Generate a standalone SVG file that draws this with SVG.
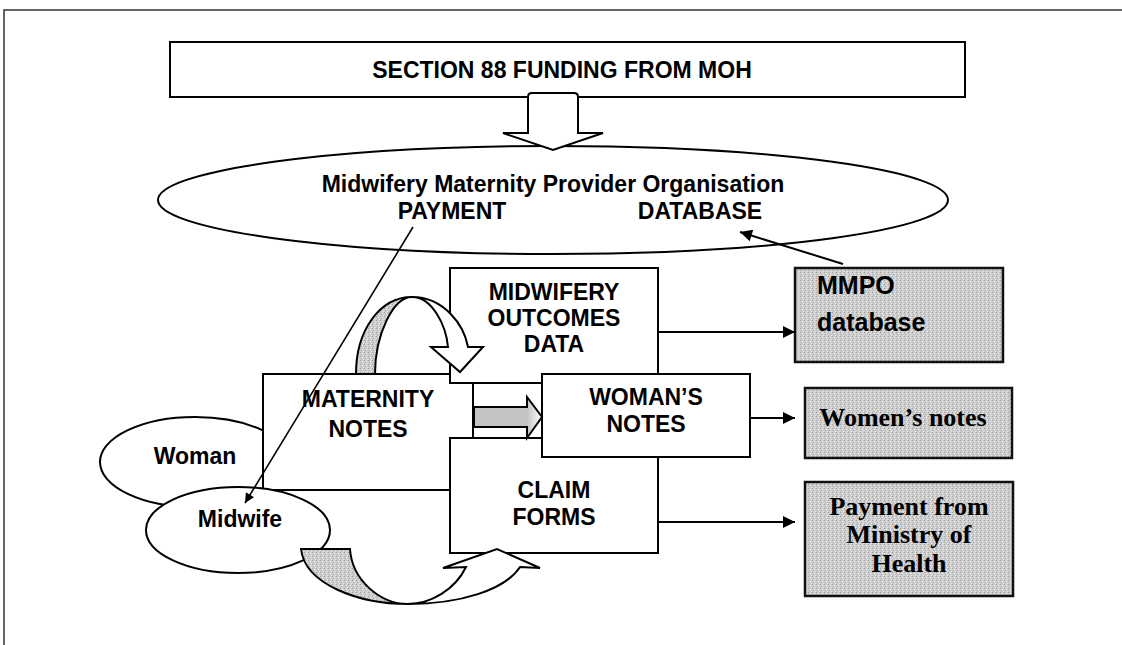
<svg xmlns="http://www.w3.org/2000/svg" width="1122" height="645" viewBox="0 0 1122 645">
  <style>
    .box { fill: #ffffff; stroke: #000; stroke-width: 2; }
    .shaded { fill: url(#stipple); stroke: #111; stroke-width: 2.5; }
    .outline { fill: #ffffff; stroke: #000; stroke-width: 2; }
    .label { font-family: "Liberation Sans", Arial, sans-serif; font-weight: bold; font-size: 23px; fill: #000; text-anchor: middle; }
    .label.left { text-anchor: start; font-size: 25px; }
    .serif { font-family: "Liberation Serif", "Times New Roman", serif; font-weight: bold; font-size: 26px; fill: #000; text-anchor: middle; }
    .conn { stroke: #000; stroke-width: 2; fill: none; marker-end: url(#head); }
    .thin { stroke: #000; stroke-width: 1.6; fill: none; marker-end: url(#head); }
  </style>
  <defs>
    <pattern id="stipple" width="4" height="4" patternUnits="userSpaceOnUse">
      <rect width="4" height="4" fill="#cdcdcd"/>
      <rect x="0" y="0" width="1" height="1" fill="#9e9e9e"/>
      <rect x="2" y="1" width="1" height="1" fill="#efefef"/>
      <rect x="1" y="2" width="1" height="1" fill="#b0b0b0"/>
      <rect x="3" y="3" width="1" height="1" fill="#e6e6e6"/>
    </pattern>
    <linearGradient id="shaftFade" x1="474" y1="0" x2="542" y2="0" gradientUnits="userSpaceOnUse">
      <stop offset="0" stop-color="#c4c4c4"/>
      <stop offset="0.78" stop-color="#c4c4c4"/>
      <stop offset="1" stop-color="#ffffff"/>
    </linearGradient>
    <marker id="head" viewBox="0 0 10 10" refX="10" refY="5" markerWidth="7" markerHeight="6" orient="auto" markerUnits="strokeWidth">
      <path d="M0,0 L10,5 L0,10 Z" fill="#000"/>
    </marker>
  </defs>

  <!-- page frame -->
  <path d="M4,645 L4,10 L1122,10" fill="none" stroke="#333" stroke-width="1.5"/>

  <!-- funding source -->
  <g id="funding">
    <rect class="box" x="170" y="42" width="795" height="55"/>
    <text class="label" x="562" y="78" font-size="25">SECTION 88 FUNDING FROM MOH</text>
  </g>

  <!-- provider organisation -->
  <g id="mmpo">
    <ellipse class="box" cx="553" cy="200" rx="395" ry="54"/>
    <text class="label" x="553" y="192" font-size="26">Midwifery Maternity Provider Organisation</text>
    <text class="label" x="452" y="219">PAYMENT</text>
    <text class="label" x="700" y="219">DATABASE</text>
  </g>

  <!-- funding block arrow -->
  <g id="funding-arrow">
    <path class="outline" d="M528,133 L528,97 Q528,93 532,93 L574,93 Q578,93 578,97 L578,133 L603,133 L553,150 L503,133 Z"/>
  </g>

  <g id="woman">
    <ellipse class="box" cx="195" cy="462" rx="95" ry="45"/>
    <text class="label" x="195" y="464">Woman</text>
  </g>

  <g id="maternity-notes">
    <rect class="box" x="263" y="374" width="210" height="116"/>
    <text class="label" x="368" y="407" font-size="24">MATERNITY</text>
    <text class="label" x="368" y="437" font-size="24">NOTES</text>
  </g>

  <g id="outcomes-data">
    <rect class="box" x="450" y="268" width="208" height="115"/>
    <text class="label" x="554" y="300" font-size="22">MIDWIFERY</text>
    <text class="label" x="554" y="326" font-size="22">OUTCOMES</text>
    <text class="label" x="554" y="352" font-size="22">DATA</text>
  </g>

  <g id="claim-forms">
    <rect class="box" x="450" y="438" width="208" height="115"/>
    <text class="label" x="554" y="498" font-size="22">CLAIM</text>
    <text class="label" x="554" y="525" font-size="22">FORMS</text>
  </g>

  <g id="womans-notes">
    <rect class="box" x="542" y="374" width="208" height="83"/>
    <text class="label" x="646" y="405" font-size="22">WOMAN’S</text>
    <text class="label" x="646" y="432" font-size="22">NOTES</text>
  </g>

  <g id="midwife">
    <ellipse class="box" cx="238" cy="530" rx="92" ry="43"/>
    <text class="label" x="240" y="527">Midwife</text>
  </g>

  <!-- outputs -->
  <g id="mmpo-database">
    <rect class="shaded" x="795" y="268" width="208" height="94"/>
    <text class="label left" x="817" y="294">MMPO</text>
    <text class="label left" x="817" y="331">database</text>
  </g>

  <g id="womens-notes">
    <rect class="shaded" x="805" y="388" width="207" height="70"/>
    <text class="serif" x="903" y="426" font-size="28">Women’s notes</text>
  </g>

  <g id="ministry-payment">
    <rect class="shaded" x="805" y="482" width="208" height="114"/>
    <text class="serif" x="909" y="515">Payment from</text>
    <text class="serif" x="909" y="543">Ministry of</text>
    <text class="serif" x="909" y="572">Health</text>
  </g>

  <!-- process arrows -->
  <g id="recording-arrow">
    <path d="M356,374 C356,330 380,297 412,297 C393,297 375,335 375,374 Z" fill="url(#stipple)" stroke="#000" stroke-width="2"/>
    <path class="outline" d="M412,297 C444,297 464,325 468,347 L483,347 L460,372 L431,347 L448,347 C446,325 432,297 412,297 Z"/>
  </g>

  <g id="notes-arrow">
    <path d="M474,407 L527,407 L527,397 L542,417 L527,438 L527,427 L474,427 Z" fill="url(#shaftFade)" stroke="#000" stroke-width="2"/>
  </g>

  <g id="claim-arrow">
    <path d="M301,549 L350,549 C352,580 380,604 408,604 C360,604 305,585 301,549 Z" fill="url(#stipple)" stroke="#000" stroke-width="2"/>
    <path class="outline" d="M408,604 C460,604 505,590 520,567 L540,568 L497,549 L443,568 L466,567 C455,590 430,604 408,604 Z"/>
  </g>

  <!-- connectors -->
  <g id="connectors">
    <line class="thin" x1="413" y1="227" x2="245" y2="503"/>
    <line class="conn" x1="843" y1="264" x2="740" y2="232"/>
    <line class="conn" x1="658" y1="332" x2="795" y2="332"/>
    <line class="conn" x1="750" y1="418" x2="795" y2="418"/>
    <line class="conn" x1="658" y1="522" x2="795" y2="522"/>
  </g>
</svg>
